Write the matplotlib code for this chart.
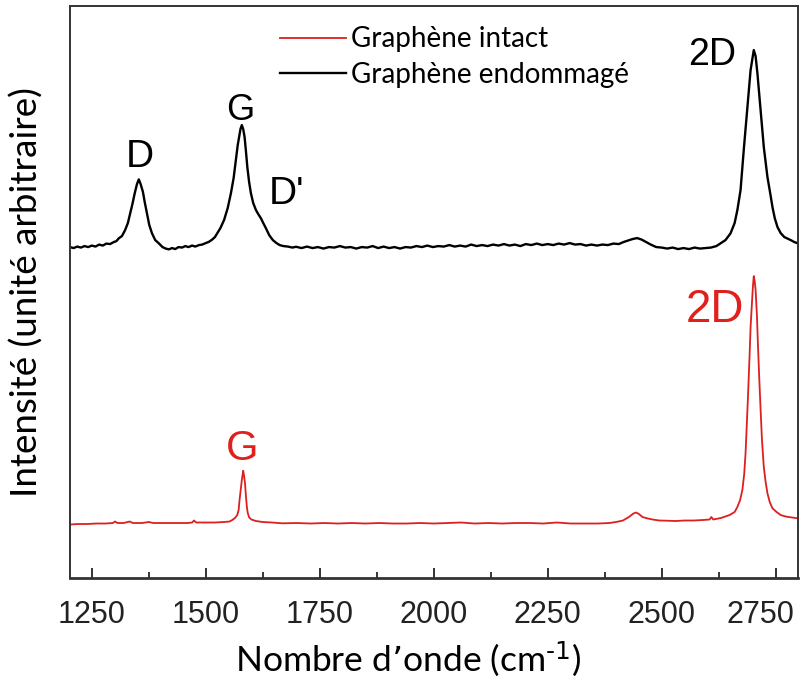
import numpy as np
import matplotlib
matplotlib.use('Agg')
import matplotlib.pyplot as plt
from matplotlib.ticker import MultipleLocator
from matplotlib.transforms import ScaledTranslation

plt.rcParams['mathtext.default'] = 'regular'

# Raman spectra (intensity in arbitrary units)
black_wn = [1202, 1210, 1218, 1226, 1234, 1242, 1250, 1258, 1266, 1274, 1282, 1290, 1298, 1304,
            1309, 1316, 1323, 1329, 1334, 1339, 1344, 1349, 1353, 1357, 1362, 1366, 1371, 1376,
            1382, 1389, 1397, 1405, 1412, 1419, 1426, 1433, 1440, 1448, 1455, 1462, 1470, 1477,
            1485, 1492, 1500, 1507, 1514, 1520, 1525, 1532, 1540, 1548, 1555, 1561, 1566, 1570,
            1573, 1576, 1579, 1582, 1585, 1588, 1591, 1595, 1599, 1604, 1610, 1615, 1621, 1626,
            1632, 1639, 1647, 1655, 1662, 1670, 1680, 1690, 1698,
            1710, 1722, 1734, 1746, 1758, 1770, 1782, 1794, 1806, 1818, 1830, 1842, 1854, 1866,
            1878, 1890, 1902, 1914, 1926, 1938, 1950, 1962, 1974, 1986, 1998, 2010, 2022, 2034,
            2046, 2058, 2070, 2082, 2094, 2106, 2118, 2130, 2142, 2154, 2166, 2178, 2190, 2202,
            2214, 2226, 2238, 2250, 2262, 2274, 2286, 2298, 2310, 2322, 2334, 2346, 2358, 2370,
            2382, 2394, 2406, 2416, 2426, 2436, 2446, 2456, 2466, 2476, 2488, 2500, 2512, 2524,
            2536, 2548, 2560, 2572, 2584, 2596, 2608, 2620, 2629, 2640, 2651, 2660, 2666, 2673,
            2680, 2688, 2695, 2702, 2706, 2710, 2717, 2724, 2732, 2738, 2743, 2748, 2754, 2761,
            2769, 2776, 2783, 2791, 2799]
black_int = [331, 330, 331.5, 330.5, 332, 331, 332.5, 331.5, 333.5, 332.5, 334.5, 334, 336, 337,
             339.7, 342, 348, 355, 364.7, 374, 384.7, 394, 398.7, 394, 386.3, 376, 364.7, 353,
             344.7, 338, 334.7, 331, 329.5, 328.7, 330, 329, 331, 330.5, 332, 331, 332.5, 331.5,
             333, 333.5, 335, 336.3, 338.5, 341, 344.7, 350, 358, 370, 384.7, 400, 418, 433,
             441.3, 449, 453, 449, 441.3, 427, 411.3, 396, 384.7, 375, 368, 364, 359.7, 355,
             349.7, 343, 338, 335, 333, 332, 331.5, 330.5, 331.3,
             330, 331.5, 330, 331, 329.5, 331, 330.5, 332, 330.5, 331, 329.5, 331, 330.5, 332,
             330, 331.5, 330, 331, 329.5, 331, 330.5, 332, 331, 332.5, 331, 332, 331.5, 333,
             331.5, 332.5, 331.5, 333.5, 332, 333, 332, 333.5, 332.5, 334, 332.5, 333.5, 332, 334,
             333, 334.5, 333, 334, 333, 334.5, 333.5, 335, 333.5, 334, 332.5, 333.5, 332.5, 333.5,
             333, 334.5, 334, 336, 337.5, 339, 340, 338.5, 336, 333.5, 331, 330.5, 329.5, 330.5,
             329, 330, 329, 330.5, 329.5, 330, 330.5, 332, 334.7, 338, 344.7, 355, 368, 388,
             428, 471, 508, 528, 522, 504.7, 468, 431, 401, 385, 371, 360, 351, 345,
             341, 339.5, 338, 336, 334.7]

red_wn = [1202, 1220, 1240, 1260, 1280, 1296, 1301, 1306, 1320, 1333, 1340, 1360, 1375, 1385,
          1400, 1420, 1440, 1460, 1470, 1474, 1479, 1500, 1520, 1540, 1552, 1558, 1564, 1569,
          1572, 1574, 1577, 1579, 1582, 1584, 1586, 1588, 1590, 1592, 1595, 1600, 1610, 1625,
          1645, 1668, 1700, 1730, 1760, 1790, 1820, 1850, 1880, 1910, 1940, 1970, 2000, 2030,
          2060, 2090, 2120, 2150, 2180, 2210, 2240, 2270, 2300, 2330, 2360, 2385, 2400, 2415,
          2428, 2438, 2444, 2450, 2458, 2468, 2480, 2495, 2512, 2530, 2550, 2570, 2590, 2605,
          2609, 2613, 2630, 2649, 2660, 2666, 2672, 2677, 2681, 2684, 2689, 2693, 2695, 2698,
          2700, 2702, 2704, 2706, 2709, 2711, 2714, 2717, 2720, 2724, 2728, 2732, 2737, 2743,
          2752, 2761, 2772, 2783, 2799]
red_int = [53.5, 54, 54, 54.5, 54.5, 55, 56.5, 55, 55, 56.5, 55, 55, 56, 55,
           55, 55, 55, 55, 55.5, 57.5, 55.5, 55.5, 55.5, 56, 56.5, 58, 60, 63,
           68, 78, 90, 98, 107.3, 102, 94.7, 82, 71.3, 65, 60.7, 58.5, 57, 56,
           55.5, 54.7, 55, 54.5, 55, 54.5, 55, 54.5, 55, 54.5, 54.5, 55, 54.5, 55,
           55.5, 54.5, 55, 54.5, 55, 55, 54.5, 55.5, 54.5, 54.5, 54.5, 55, 56, 57.5,
           61, 64.5, 65.5, 64, 61, 59.7, 58.5, 57.5, 57.3, 57, 57.5, 57.5, 58, 58.5,
           61, 58.5, 60, 63, 66, 71, 78, 88, 104, 125, 178, 225, 251, 275,
           291, 302, 297, 288, 262, 235, 200, 168, 138, 111, 96, 84.7, 76, 69.7,
           66, 63, 61.5, 60.7, 59.7]

# peak labels: (text, wavenumber, intensity at baseline of text, size, colour)
peak_labels = [('D', 1355, 411, 28, 'black'),
               ('G', 1575, 458, 26, 'black'),
               ("D'", 1676, 374, 28, 'black'),
               ('2D', 2611, 513, 27, 'black'),
               ('G', 1580, 118, 30, '#e0201c'),
               ('2D', 2616, 256, 33, '#e0201c')]

red = '#dc1f1f'

fig = plt.figure(figsize=(8.06, 6.8), dpi=100)
ax = fig.add_axes([0.0868, 0.15, 0.9027, 0.841])

ax.plot(red_wn, red_int, color=red, lw=1.3, label='Graphène intact')
ax.plot(black_wn, black_int, color='black', lw=1.7, label='Graphène endommagé')

for txt, w, y, size, col in peak_labels:
    ax.text(w, y, txt, ha='center', va='baseline', fontsize=size, color=col,
            family='Liberation Sans')

ax.set_xlim(1202, 2798)
ax.set_ylim(0, 572)
ax.set_yticks([])
ax.set_xticks(np.arange(1250, 2751, 250))
ax.xaxis.set_minor_locator(MultipleLocator(125))
ax.tick_params(axis='x', which='major', direction='in', length=7.5, width=1.3, pad=16,
               labelsize=22, colors='#222222')
ax.tick_params(axis='x', which='minor', direction='in', length=4, width=1.1)
for lab in ax.get_xticklabels():
    lab.set_family('Liberation Sans')
# last label sits a bit left of its tick in the original
last = ax.xaxis.get_major_ticks()[-1].label1
last.set_transform(last.get_transform() + ScaledTranslation(-0.15, 0, fig.dpi_scale_trans))

for sp in ax.spines.values():
    sp.set_color('#333333')
    sp.set_linewidth(1.4)
ax.spines['bottom'].set_linewidth(2)

ax.set_xlabel('Nombre d’onde (cm$^{\\text{-1}}$)', fontsize=25.5, family='Lato')
ax.xaxis.set_label_coords(0.465, -0.108)
ax.set_ylabel('Intensité (unité arbitraire)', fontsize=26.5, family='Lato')
ax.yaxis.set_label_coords(-0.0357, 0.5)

ax.legend(loc='upper left', bbox_to_anchor=(0.289, 0.9645), frameon=False,
          prop={'family': 'Lato', 'size': 20}, borderpad=0, borderaxespad=0,
          handlelength=2.35, handletextpad=0.2, labelspacing=0.35)

plt.savefig('out.png', dpi=100)
